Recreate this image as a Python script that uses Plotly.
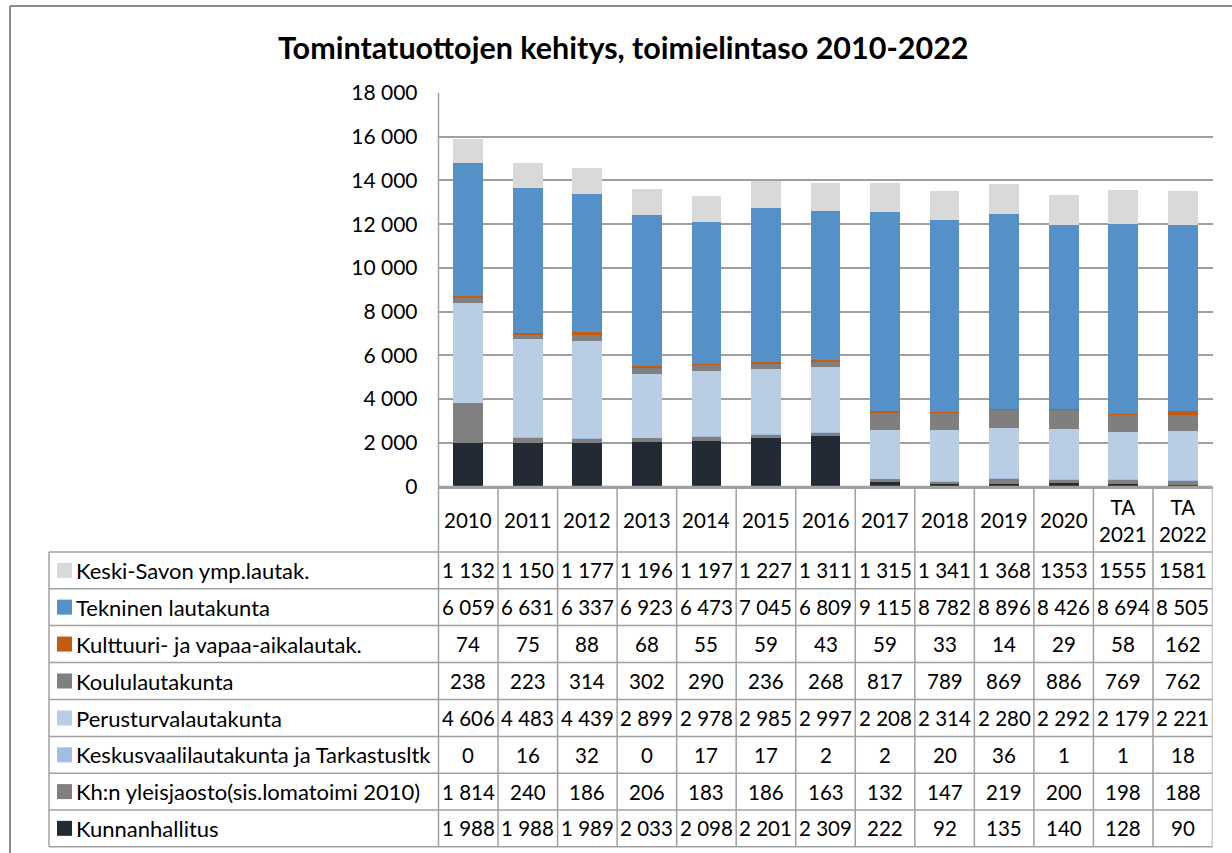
import plotly.graph_objects as go

# ---------------- data ----------------
years = ["2010", "2011", "2012", "2013", "2014", "2015", "2016",
         "2017", "2018", "2019", "2020", "TA 2021", "TA 2022"]
year_labels = ["2010", "2011", "2012", "2013", "2014", "2015", "2016",
               "2017", "2018", "2019", "2020", "TA<br>2021", "TA<br>2022"]

kunnanhallitus = [1988, 1988, 1989, 2033, 2098, 2201, 2309, 222, 92, 135, 140, 128, 90]
khn_yleisjaosto = [1814, 240, 186, 206, 183, 186, 163, 132, 147, 219, 200, 198, 188]
keskusvaali = [0, 16, 32, 0, 17, 17, 2, 2, 20, 36, 1, 1, 18]
perusturva = [4606, 4483, 4439, 2899, 2978, 2985, 2997, 2208, 2314, 2280, 2292, 2179, 2221]
koulu = [238, 223, 314, 302, 290, 236, 268, 817, 789, 869, 886, 769, 762]
kulttuuri = [74, 75, 88, 68, 55, 59, 43, 59, 33, 14, 29, 58, 162]
tekninen = [6059, 6631, 6337, 6923, 6473, 7045, 6809, 9115, 8782, 8896, 8426, 8694, 8505]
keski_savon = [1132, 1150, 1177, 1196, 1197, 1227, 1311, 1315, 1341, 1368, 1353, 1555, 1581]
keski_savon_plain_cells = [10, 11, 12]  # shown without thousands separator

# stacking order bottom -> top
series = [
    ("Kunnanhallitus", kunnanhallitus, "#222A35"),
    ("Kh:n yleisjaosto(sis.lomatoimi 2010)", khn_yleisjaosto, "#808080"),
    ("Keskusvaalilautakunta ja Tarkastusltk", keskusvaali, "#A2BFE3"),
    ("Perusturvalautakunta", perusturva, "#B9CDE5"),
    ("Koululautakunta", koulu, "#7F7F7F"),
    ("Kulttuuri- ja vapaa-aikalautak.", kulttuuri, "#C55A11"),
    ("Tekninen lautakunta", tekninen, "#5591C8"),
    ("Keski-Savon ymp.lautak.", keski_savon, "#D9D9D9"),
]

y_ticks = [0, 2000, 4000, 6000, 8000, 10000, 12000, 14000, 16000, 18000]
y_tick_text = ["0", "2 000", "4 000", "6 000", "8 000", "10 000", "12 000",
               "14 000", "16 000", "18 000"]

title = "Tomintatuottojen kehitys, toimielintaso 2010-2022"

# ---------------- layout geometry (pixels) ----------------
W, H = 1232, 853
FONT = "Lato"
LINE = "#A0A0A0"


def px(x):
    return x / W


def py(y):
    return 1 - y / H


plot_left, plot_right = 438.5, 1212.5
plot_top, plot_bottom = 93.0, 486.5
row_edges = [486.5, 552.0, 588.7, 625.6, 662.5, 699.5, 736.5, 773.2, 810.0, 846.7]
legend_left = 49.0


def fmt(v):
    return f"{v:,}".replace(",", " ")


fig = go.Figure()
for name, vals, col in series:
    fig.add_trace(go.Bar(x=list(range(len(years))), y=vals, name=name, marker_color=col,
                         marker_line_width=0, showlegend=False))

shapes = []
annotations = []

# outer chart border (top/left visible)
shapes.append(dict(type="line", xref="paper", yref="paper", x0=px(10), x1=1.05,
                   y0=py(6), y1=py(6), line=dict(color="#8C8C8C", width=2)))
shapes.append(dict(type="line", xref="paper", yref="paper", x0=px(10), x1=px(10),
                   y0=py(6), y1=-0.05, line=dict(color="#8C8C8C", width=2)))

# left axis line extending down through table
shapes.append(dict(type="line", xref="paper", yref="paper", x0=px(plot_left), x1=px(plot_left),
                   y0=py(plot_top), y1=py(row_edges[-1]), line=dict(color=LINE, width=1.5)))
n = len(years)
for i in range(n):
    xv = i + 0.5
    shapes.append(dict(type="line", xref="x", yref="paper", x0=xv, x1=xv,
                       y0=py(row_edges[0]), y1=py(row_edges[-1]),
                       line=dict(color=LINE, width=1.5)))
shapes.append(dict(type="line", xref="paper", yref="paper", x0=px(plot_left), x1=px(plot_right),
                   y0=py(row_edges[0]), y1=py(row_edges[0]), line=dict(color=LINE, width=1.5)))
for yy in row_edges[1:]:
    shapes.append(dict(type="line", xref="paper", yref="paper", x0=px(legend_left), x1=px(plot_right),
                       y0=py(yy), y1=py(yy), line=dict(color=LINE, width=1.5)))
shapes.append(dict(type="line", xref="paper", yref="paper", x0=px(legend_left), x1=px(legend_left),
                   y0=py(row_edges[1]), y1=py(row_edges[-1]), line=dict(color=LINE, width=1.5)))

# header labels
hdr_mid = py((row_edges[0] + row_edges[1]) / 2 + 1)
for i, lab in enumerate(year_labels):
    annotations.append(dict(xref="x", yref="paper", x=i, y=hdr_mid, text=lab,
                            showarrow=False, font=dict(family=FONT, size=20.5, color="#000"),
                            xanchor="center", yanchor="middle"))

# table rows (top -> bottom = reverse of stacking)
for r, (name, vals, col) in enumerate(reversed(series)):
    top, bot = row_edges[r + 1], row_edges[r + 2]
    mid = (top + bot) / 2
    shapes.append(dict(type="rect", xref="paper", yref="paper",
                       x0=px(57), x1=px(72), y0=py(mid - 7.5), y1=py(mid + 7.5),
                       fillcolor=col, line=dict(width=0)))
    annotations.append(dict(xref="paper", yref="paper", x=px(74), y=py(mid), text=name,
                            showarrow=False, xanchor="left", yanchor="middle",
                            font=dict(family=FONT, size=22, color="#000")))
    for i, v in enumerate(vals):
        if vals is keski_savon and i in keski_savon_plain_cells:
            t = str(v)
        else:
            t = fmt(v)
        annotations.append(dict(xref="x", yref="paper", x=i, y=py(mid), text=t,
                                showarrow=False, xanchor="center", yanchor="middle",
                                font=dict(family=FONT, size=20.5, color="#000")))

# title
annotations.append(dict(xref="paper", yref="paper", x=px(624), y=py(47), text="<b>" + title + "</b>",
                        showarrow=False, xanchor="center", yanchor="middle",
                        font=dict(family=FONT, size=30.5, color="#000")))

fig.update_layout(
    width=W, height=H,
    margin=dict(l=0, r=0, t=0, b=0, pad=0, autoexpand=False),
    paper_bgcolor="white", plot_bgcolor="white",
    barmode="stack", bargap=0.5,
    font=dict(family=FONT, color="#000"),
    xaxis=dict(domain=[px(plot_left), px(plot_right)], range=[-0.5, n - 0.5],
               showticklabels=False, showgrid=False, zeroline=False, automargin=False,
               showline=True, linecolor=LINE, linewidth=1.5, ticks=""),
    yaxis=dict(domain=[py(plot_bottom), py(plot_top)], range=[0, 18000],
               tickvals=y_ticks, ticktext=y_tick_text, automargin=False,
               tickfont=dict(family=FONT, size=21, color="#000"),
               showgrid=True, gridcolor=LINE, gridwidth=1.5,
               zeroline=False, showline=False, ticks="", ticklabelstandoff=20),
    shapes=shapes,
    annotations=annotations,
)

fig.write_html("out.html", config={"displayModeBar": False},
               post_script="document.body.style.margin='0';document.body.style.overflow='hidden';")
